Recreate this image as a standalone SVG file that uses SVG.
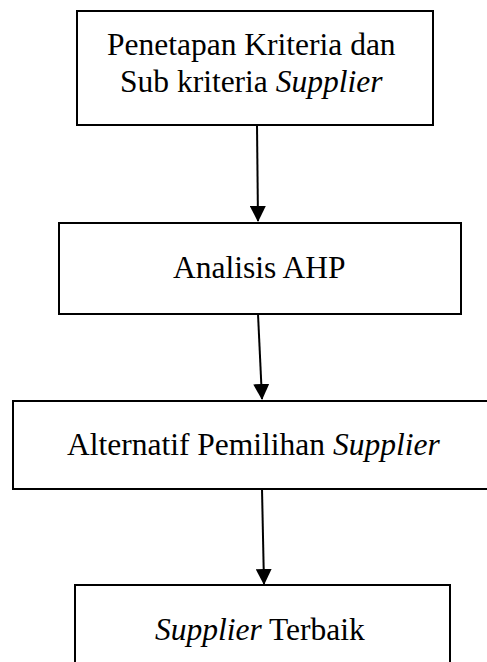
<svg xmlns="http://www.w3.org/2000/svg" width="487" height="662" viewBox="0 0 487 662">
  <defs>
    <marker id="arrow" markerWidth="8" markerHeight="8" refX="7.5" refY="4" orient="auto" markerUnits="strokeWidth">
      <path d="M0,0 L8,4 L0,8 Z" fill="#000"/>
    </marker>
    <style>
      .box { fill: #fff; stroke: #000; stroke-width: 2; }
      .lbl { font-family: "Liberation Serif", serif; font-size: 31.5px; fill: #000; }
      .it { font-family: "Liberation Serif", serif; font-style: oblique; }
      .conn { stroke: #000; stroke-width: 2; fill: none; marker-end: url(#arrow); }
    </style>
  </defs>
  <rect width="487" height="662" fill="#fff"/>
  <g id="connectors">
    <line class="conn" x1="257" y1="125" x2="258" y2="221"/>
    <line class="conn" x1="258" y1="314" x2="262" y2="399"/>
    <line class="conn" x1="262" y1="489" x2="264" y2="584"/>
  </g>
  <g id="node1">
    <rect class="box" x="77" y="11" width="356" height="114"/>
    <text class="lbl" x="107" y="55">Penetapan Kriteria dan</text>
    <text class="lbl" x="120" y="92">Sub kriteria <tspan class="it">Supplier</tspan></text>
  </g>
  <g id="node2">
    <rect class="box" x="59" y="223" width="402" height="91"/>
    <text class="lbl" x="173" y="278">Analisis AHP</text>
  </g>
  <g id="node3">
    <rect class="box" x="13" y="401" width="500" height="88"/>
    <text class="lbl" x="67" y="455">Alternatif Pemilihan <tspan class="it">Supplier</tspan></text>
  </g>
  <g id="node4">
    <rect class="box" x="75" y="585" width="375" height="100"/>
    <text class="lbl" x="155" y="640"><tspan class="it">Supplier</tspan> Terbaik</text>
  </g>
</svg>
